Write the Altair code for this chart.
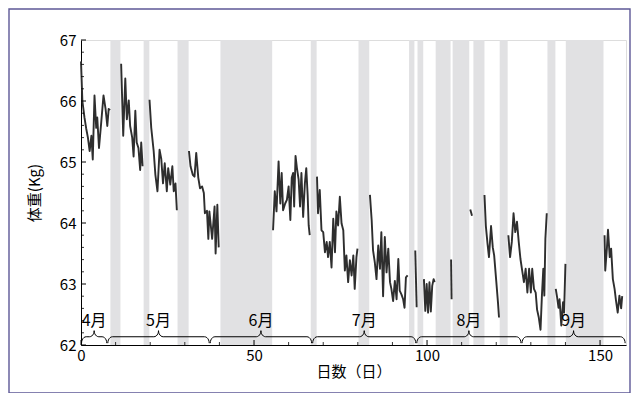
import math
import altair as alt
import pandas as pd

# ---- weight series, one list pair per measured stretch (day, kg) ----
seg_a_day = [0, 0.4, 1.0, 1.5, 2.0, 2.5, 3.0, 3.4, 3.9, 4.4, 4.7, 5.2, 5.8, 6.5, 7.1, 7.6, 8.0, 8.4]
seg_a_w = [66.65, 66.0, 65.73, 65.55, 65.4, 65.18, 65.43, 65.04, 66.09, 65.56, 65.73, 65.23, 65.62, 66.09, 65.87, 65.59, 65.87, 65.85]
seg_b_day = [11.6, 12.2, 12.8, 13.25, 13.8, 14.2, 14.8, 15.2, 15.7, 16.1, 16.6, 17.1, 17.4, 17.8]
seg_b_w = [66.61, 65.43, 66.37, 65.70, 66.01, 65.59, 65.40, 65.09, 65.84, 65.32, 65.23, 64.87, 65.32, 64.93]
seg_c_day = [19.8, 20.3, 21.0, 21.5, 22.1, 22.7, 23.2, 23.7, 24.2, 24.8, 25.2, 25.8, 26.4, 26.8, 27.3, 27.7]
seg_c_w = [66.02, 65.56, 65.18, 64.79, 64.52, 65.2, 65.05, 64.65, 64.98, 64.52, 64.9, 64.63, 64.93, 64.52, 64.65, 64.21]
seg_d_day = [31.2, 31.65, 32.3, 32.8, 33.3, 33.9, 34.4, 35.0, 35.5, 35.8, 36.4, 36.8, 37.1, 37.6, 37.9, 38.6, 38.9, 39.4, 39.8]
seg_d_w = [65.18, 64.93, 64.79, 64.76, 65.15, 64.74, 64.57, 64.6, 64.49, 64.16, 64.2, 63.74, 64.19, 63.91, 63.74, 64.27, 63.5, 64.3, 63.6]
seg_e_day = [55.5, 56.0, 56.5, 57.1, 57.6, 58.0, 58.4, 59.0, 59.5, 60.0, 60.5, 60.9, 61.3, 61.6, 62.0, 62.4, 62.9, 63.3, 63.7, 64.2, 64.7, 65.1, 65.5, 65.8, 66.1]
seg_e_w = [63.88, 64.52, 64.19, 65.01, 64.32, 64.82, 64.21, 64.32, 64.38, 64.6, 64.05, 64.74, 64.82, 64.27, 65.10, 64.9, 64.71, 64.27, 64.82, 64.10, 64.65, 64.9, 64.46, 63.96, 63.8]
seg_f_day = [68.2, 68.5, 69.0, 69.5, 70.0, 70.5, 71.0, 71.4, 71.9, 72.4, 72.9, 73.4, 73.8, 74.3, 74.8, 75.3, 75.8, 76.25, 76.7, 77.2, 77.7, 78.2, 78.7, 79.1, 79.6, 79.9]
seg_f_w = [64.76, 64.16, 64.54, 63.88, 63.85, 63.52, 63.69, 63.44, 63.69, 63.27, 64.07, 63.52, 64.19, 63.96, 64.43, 63.99, 63.88, 63.22, 63.47, 63.03, 63.39, 63.14, 63.47, 62.92, 63.44, 63.58]
seg_g_day = [83.5, 84.0, 84.4, 84.9, 85.4, 85.9, 86.4, 86.8, 87.3, 87.8, 88.3, 88.8, 89.3, 89.7, 90.2, 90.7, 91.2, 91.7, 92.1, 92.6, 93.1, 93.5, 93.9, 94.4]
seg_g_w = [64.46, 64.05, 63.55, 63.36, 63.08, 63.63, 63.25, 63.85, 62.80, 63.77, 63.19, 63.58, 63.03, 62.92, 62.72, 63.05, 62.75, 63.41, 62.89, 62.83, 62.75, 62.61, 63.11, 63.14]
seg_h_day = [96.6, 97.0]
seg_h_w = [63.55, 62.62]
seg_i_day = [99.1, 99.5, 99.9, 100.3, 100.7, 101.1, 101.5, 101.9, 102.2]
seg_i_w = [63.08, 62.56, 63.0, 62.53, 63.03, 62.55, 62.97, 63.08, 63.03]
seg_j_day = [106.95, 107.1]
seg_j_w = [63.4, 62.75]
seg_k_day = [112.5, 113.0]
seg_k_w = [64.22, 64.12]
seg_l_day = [116.6, 117.0, 117.5, 117.9, 118.5, 119.0, 119.4, 120.0, 120.5, 120.8]
seg_l_w = [64.46, 63.95, 63.65, 63.44, 63.95, 63.6, 63.47, 63.05, 62.7, 62.45]
seg_m_day = [123.5, 124.0, 124.5, 125.0, 125.5, 126.0, 126.5, 127.0, 127.5, 128.0, 128.5, 129.0, 129.5, 130.0, 130.4, 130.9, 131.4, 131.8, 132.3, 132.8, 133.2, 133.6, 133.9, 134.2, 134.6]
seg_m_w = [63.8, 63.44, 63.69, 64.16, 63.85, 64.02, 63.69, 63.41, 63.22, 63.03, 63.25, 62.86, 63.25, 62.86, 63.25, 62.92, 62.86, 62.58, 62.45, 62.25, 62.81, 63.25, 62.81, 63.74, 64.16]
seg_n_day = [137.2, 137.6, 138.0, 138.3, 138.8, 139.3, 139.6, 140.0]
seg_n_w = [62.92, 62.78, 62.61, 62.75, 62.32, 62.7, 62.53, 63.33]
seg_o_day = [151.3, 151.5, 152.0, 152.3, 152.8, 153.2, 153.7, 154.2, 154.6, 155.1, 155.6, 156.1, 156.4]
seg_o_w = [63.8, 63.22, 63.6, 63.89, 63.44, 63.58, 63.08, 62.92, 62.73, 62.53, 62.81, 62.6, 62.8]

# ---- grey bands (days without a measurement) ----
band_start = [8.5, 18.1, 27.9, 40.3, 66.4, 80.2, 94.8, 97.25, 102.5, 107.4, 113.4, 121.0, 134.8, 140.1]
band_end = [11.4, 19.75, 31.1, 55.25, 68.1, 83.3, 96.35, 98.9, 106.8, 112.2, 116.6, 123.3, 137.1, 151.0]

# ---- month braces ----
month_labels = ["4月", "5月", "6月", "7月", "8月", "9月"]
month_bounds = [0, 7.6, 37.2, 66.8, 96.9, 127.3, 157.4]

# ---- axes ----
x_major = [0, 50, 100, 150]
x_minor = [10, 20, 30, 40, 60, 70, 80, 90, 110, 120, 130, 140]
y_major = [62, 63, 64, 65, 66, 67]
y_minor = [62.2, 62.4, 62.6, 62.8, 63.2, 63.4, 63.6, 63.8, 64.2, 64.4, 64.6, 64.8,
           65.2, 65.4, 65.6, 65.8, 66.2, 66.4, 66.6, 66.8]

W, H = 545, 305
FONT = "Noto Sans CJK JP"
XDOM = [0, 157.5]
YDOM = [62, 67]

segs = [
    (seg_a_day, seg_a_w), (seg_b_day, seg_b_w), (seg_c_day, seg_c_w), (seg_d_day, seg_d_w),
    (seg_e_day, seg_e_w), (seg_f_day, seg_f_w), (seg_g_day, seg_g_w), (seg_h_day, seg_h_w),
    (seg_i_day, seg_i_w), (seg_j_day, seg_j_w), (seg_k_day, seg_k_w), (seg_l_day, seg_l_w),
    (seg_m_day, seg_m_w), (seg_n_day, seg_n_w), (seg_o_day, seg_o_w),
]
rows = []
for si, (ds, ws) in enumerate(segs):
    for k, (d, w) in enumerate(zip(ds, ws)):
        rows.append({"seg": si, "k": k, "day": d, "w": w})
line_df = pd.DataFrame(rows)

band_df = pd.DataFrame({"s": band_start, "e": band_end, "lo": YDOM[0], "hi": YDOM[1]})

# brace geometry built from the month boundaries
yb, yh, yt, rx = 62.03, 62.135, 62.235, 1.35
brace_rows = []
lab_rows = []
for bi in range(len(month_labels)):
    a = month_bounds[bi] + 0.15
    b = month_bounds[bi + 1] - 0.15
    m = (a + b) / 2
    pts = []
    n = 6
    for i in range(n + 1):
        t = (math.pi / 2) * i / n
        pts.append((a + rx - rx * math.cos(t), yb + (yh - yb) * math.sin(t)))
    for i in range(n + 1):
        t = (math.pi / 2) * i / n
        pts.append((m - rx + rx * math.sin(t), yt - (yt - yh) * math.cos(t)))
    right = [(2 * m - x, y) for (x, y) in reversed(pts)]
    pts = pts + right
    for k, (x, y) in enumerate(pts):
        brace_rows.append({"b": bi, "k": k, "x": x, "y": y})
    lab_rows.append({"x": m, "y": yt, "t": month_labels[bi]})
brace_df = pd.DataFrame(brace_rows)
lab_df = pd.DataFrame(lab_rows)

xs = alt.Scale(domain=XDOM, nice=False, zero=False)
ys = alt.Scale(domain=YDOM, nice=False, zero=False)

x_axis = alt.Axis(values=x_major, ticks=False, grid=False, domainColor="black", domainWidth=1,
                  labelFont=FONT, labelFontSize=15, labelColor="black", labelPadding=3,
                  title="日数（日）", titleFont=FONT, titleFontSize=15, titleFontWeight="normal",
                  titleColor="black", titlePadding=1, labelFlush=False, format="d")
y_axis = alt.Axis(values=y_major, ticks=False, grid=False, domainColor="black", domainWidth=1,
                  labelFont=FONT, labelFontSize=15, labelColor="black", labelPadding=5,
                  title="体重(Kg)", titleFont=FONT, titleFontSize=15, titleFontWeight="normal",
                  titleColor="black", titlePadding=17, format="d")

bands = alt.Chart(band_df).mark_rect(color="#e1e1e3").encode(
    x=alt.X("s:Q", scale=xs, axis=x_axis), x2="e:Q",
    y=alt.Y("lo:Q", scale=ys, axis=y_axis), y2="hi:Q",
)

line = alt.Chart(line_df).mark_line(color="#2e2e2e", strokeWidth=1.9, strokeJoin="round").encode(
    x=alt.X("day:Q", scale=xs), y=alt.Y("w:Q", scale=ys), detail="seg:N", order="k:Q",
)

braces = alt.Chart(brace_df).mark_line(color="black", strokeWidth=1).encode(
    x=alt.X("x:Q", scale=xs), y=alt.Y("y:Q", scale=ys), detail="b:N", order="k:Q",
)

labels = alt.Chart(lab_df).mark_text(font=FONT, fontSize=16, color="black", baseline="alphabetic",
                                     align="center", dy=-5).encode(
    x=alt.X("x:Q", scale=xs), y=alt.Y("y:Q", scale=ys), text="t:N",
)

xmaj_df = pd.DataFrame({"v": x_major})
xmin_df = pd.DataFrame({"v": x_minor})
ymaj_df = pd.DataFrame({"v": y_major})
ymin_df = pd.DataFrame({"v": y_minor})

xt_major = alt.Chart(xmaj_df).mark_rule(color="black", strokeWidth=1).encode(
    x=alt.X("v:Q", scale=xs), y=alt.value(H), y2=alt.value(H - 5))
xt_minor = alt.Chart(xmin_df).mark_rule(color="black", strokeWidth=0.8).encode(
    x=alt.X("v:Q", scale=xs), y=alt.value(H), y2=alt.value(H - 3))
yt_major = alt.Chart(ymaj_df).mark_rule(color="black", strokeWidth=1).encode(
    y=alt.Y("v:Q", scale=ys), x=alt.value(0), x2=alt.value(5))
yt_minor = alt.Chart(ymin_df).mark_rule(color="black", strokeWidth=0.8).encode(
    y=alt.Y("v:Q", scale=ys), x=alt.value(0), x2=alt.value(3))

frame = alt.Chart(pd.DataFrame({"f": [0]})).mark_rect(
    filled=False, stroke="#5d5896", strokeWidth=1.4, clip=False).encode(
    x=alt.value(-72), x2=alt.value(549), y=alt.value(-31), y2=alt.value(353))

chart = alt.layer(
    bands, line, braces, labels, xt_major, xt_minor, yt_major, yt_minor, frame
).properties(
    width=W, height=H,
    autosize=alt.AutoSizeParams(type="none"),
    padding={"left": 73, "top": 32, "right": 6, "bottom": 48},
).configure_view(stroke=None).configure(background="white")

chart.save("out.html", embed_options={"renderer": "svg", "actions": False})
